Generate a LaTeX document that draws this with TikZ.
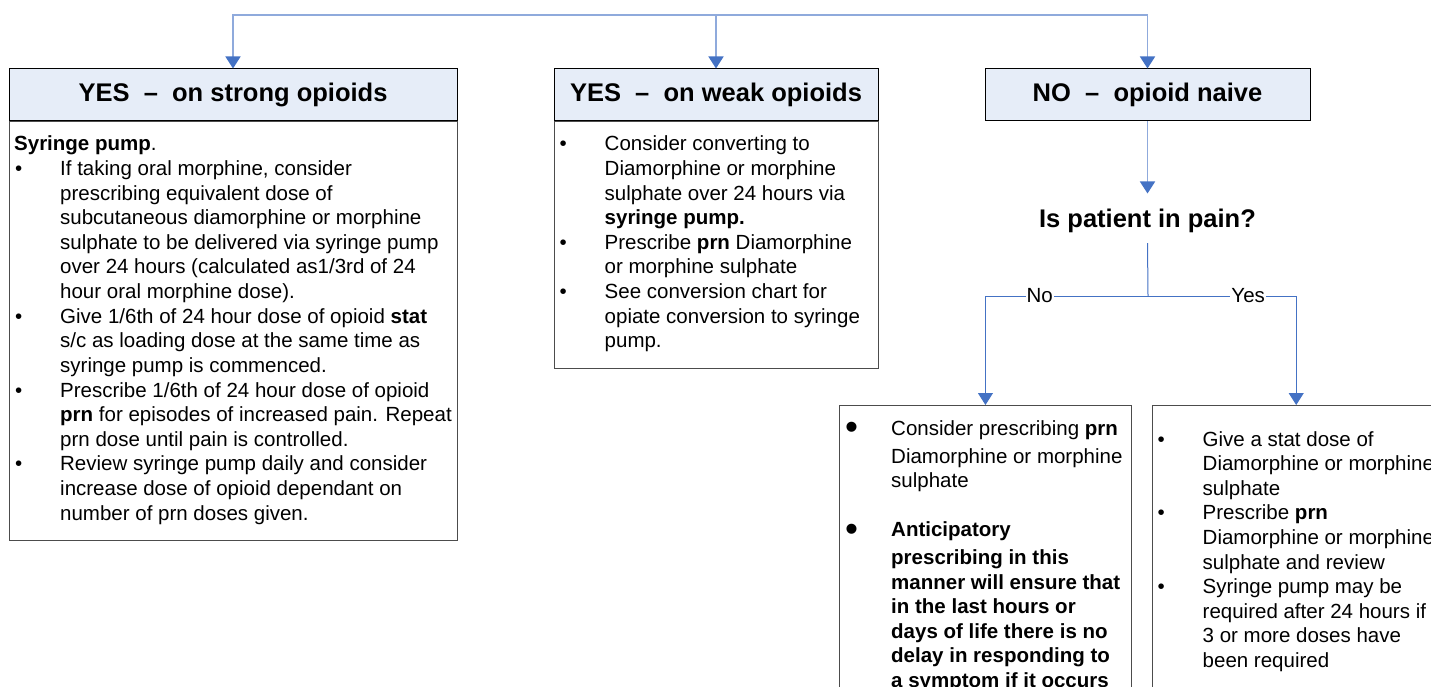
\documentclass[tikz,border=0pt]{standalone}
\usepackage{fontspec}
\setmainfont{Liberation Sans}
\usetikzlibrary{arrows.meta,positioning}

\definecolor{headfill}{RGB}{230,237,248}
\definecolor{tipblue}{RGB}{68,114,196}
\definecolor{paleblue}{RGB}{143,170,220}

\newcommand{\blt}{\makebox[45pt][l]{•}}
\newcommand{\bigblt}{\makebox[46pt][l]{\raisebox{-4.7pt}{\fontsize{37}{37}\selectfont •}}}

\begin{document}
\begin{tikzpicture}[
  x=1pt, y=-1pt,
  head/.style={draw=black, line width=1pt, fill=headfill, minimum height=52pt, inner sep=0pt,
    font=\fontsize{25.5}{30}\selectfont\bfseries},
  body/.style={draw=black!70, line width=0.9pt, inner sep=0pt},
  txt/.style={anchor=base west, inner sep=0pt, font=\fontsize{20.5}{24.6}\selectfont},
  lbl/.style={fill=white, inner xsep=1pt, inner ysep=0pt, font=\fontsize{20.5}{24.6}\selectfont},
  feed/.style={draw=paleblue, line width=1.6pt, -{Triangle[width=15pt,length=12pt,color=tipblue]}},
  wire/.style={draw=tipblue, line width=1pt},
  branch/.style={wire, -{Triangle[width=15pt,length=12pt]}}
]
  \path[use as bounding box] (0,0) rectangle (1431,687);
  \clip (0,0) rectangle (1431,687);

  % header row
  \node[head, minimum width=448pt] (strong) at (233,95) {YES\ \ –\ \ on strong opioids};
  \node[head, minimum width=324pt] (weak) at (716,95) {YES\ \ –\ \ on weak opioids};
  \node[head, minimum width=325pt] (naive) at (1147.5,95) {NO\ \ –\ \ opioid naive};

  \node[body, minimum width=448pt, minimum height=418pt, below=0pt of strong] (strongbody) {};
  \node[body, minimum width=324pt, minimum height=246pt, below=0pt of weak] (weakbody) {};

  \node[txt] (strongtxt) at (15,151) {\begin{tabular}[t]{@{}l@{}l@{}}
    \multicolumn{2}{@{\hspace{-1pt}}l@{}}{\textbf{Syringe pump}.}\\
    \blt & If taking oral morphine, consider\\
         & prescribing equivalent dose of\\
         & subcutaneous diamorphine or morphine\\
         & sulphate to be delivered via syringe pump\\
         & over 24 hours (calculated as1/3rd of 24\\
         & hour oral morphine dose).\\
    \blt & Give 1/6th of 24 hour dose of opioid \textbf{stat}\\
         & s/c as loading dose at the same time as\\
         & syringe pump is commenced.\\
    \blt & Prescribe 1/6th of 24 hour dose of opioid\\
         & \textbf{prn} for episodes of increased pain. Repeat\\
         & prn dose until pain is controlled.\\
    \blt & Review syringe pump daily and consider\\
         & increase dose of opioid dependant on\\
         & number of prn doses given.
  \end{tabular}};

  \node[txt] (weaktxt) at (559.5,151) {\begin{tabular}[t]{@{}l@{}l@{}}
    \blt & Consider converting to\\
         & Diamorphine or morphine\\
         & sulphate over 24 hours via\\
         & \textbf{syringe pump.}\\
    \blt & Prescribe \textbf{prn} Diamorphine\\
         & or morphine sulphate\\
    \blt & See conversion chart for\\
         & opiate conversion to syringe\\
         & pump.
  \end{tabular}};

  % opioid naive branch
  \node[font=\fontsize{25.5}{30}\selectfont\bfseries, inner xsep=0pt, inner ysep=10pt,
    below=77.5pt of naive] (pain) {Is patient in pain?};
  \coordinate (fork) at (1148,296);

  \node[body, minimum width=292pt, minimum height=320pt, anchor=north west] (nopain) at (839,405) {};
  \node[body, minimum width=288.5pt, minimum height=320pt, anchor=north west] (inpain) at (1151.5,405) {};

  \node[txt] (nopaintxt) at (845,435) {\begin{tabular}[t]{@{}l@{}l@{}}
    \bigblt & Consider prescribing \textbf{prn}\\[3.4pt]
            & Diamorphine or morphine\\
            & sulphate\\
            & \\
    \bigblt & \textbf{Anticipatory}\\[3pt]
            & \textbf{prescribing in this}\\
            & \textbf{manner will ensure that}\\
            & \textbf{in the last hours or}\\
            & \textbf{days of life there is no}\\
            & \textbf{delay in responding to}\\
            & \textbf{a symptom if it occurs}
  \end{tabular}};

  \node[txt] (inpaintxt) at (1157.5,446) {\begin{tabular}[t]{@{}l@{}l@{}}
    \blt & Give a stat dose of\\
         & Diamorphine or morphine\\
         & sulphate\\
    \blt & Prescribe \textbf{prn}\\
         & Diamorphine or morphine\\
         & sulphate and review\\
    \blt & Syringe pump may be\\
         & required after 24 hours if\\
         & 3 or more doses have\\
         & been required
  \end{tabular}};

  % connectors
  \coordinate (split) at (716,15);
  \draw[feed] (split) -| (strong.north);
  \draw[feed] (split) -- (weak.north);
  \draw[feed] (split) -| (naive.north);
  \draw[feed, shorten >=5.5pt] (naive) -- (pain);
  \draw[wire] (pain.south) -- (fork);
  \draw[branch] (fork) -| node[lbl, pos=0.333] {No} (nopain.north);
  \draw[branch] (fork) -| node[lbl, pos=0.338] {Yes} (inpain.north);
\end{tikzpicture}
\end{document}
